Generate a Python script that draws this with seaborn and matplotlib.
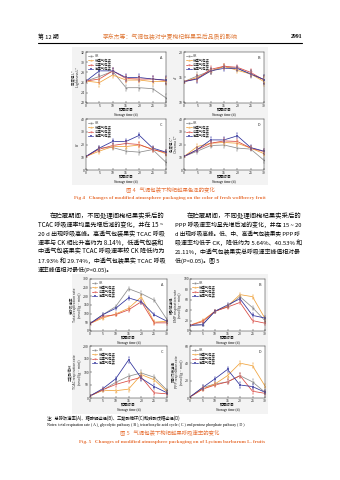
import numpy as np
import pandas as pd
import matplotlib
matplotlib.use("Agg")
import matplotlib.pyplot as plt
import seaborn as sns

# ---------------- data ----------------
days = [0, 5, 10, 15, 20, 25, 30]
groups = ["CK", "低透气包装", "中透气包装", "高透气包装"]

# Fig 4 (color)
f4a_ck = [26.3, 27.2, 28.2, 25.0, 25.0, 24.8, 23.0]
f4a_low = [26.3, 26.0, 27.5, 26.5, 26.5, 26.2, 26.2]
f4a_mid = [26.3, 26.7, 28.3, 26.8, 26.7, 26.7, 26.4]
f4a_high = [26.3, 28.3, 28.3, 27.0, 27.0, 26.7, 26.5]
f4a_err = [0.2, 0.8, 0.6, 0.6, 0.6, 0.6, 0.7]

f4b_ck = [14.2, 15.3, 16.3, 17.1, 16.8, 15.6, 14.6]
f4b_low = [14.2, 15.0, 16.2, 17.2, 16.4, 15.7, 14.2]
f4b_mid = [14.2, 14.8, 16.6, 17.2, 17.0, 16.0, 14.5]
f4b_high = [14.2, 14.7, 16.3, 16.8, 16.8, 15.7, 14.6]
f4b_err = [0.2, 0.7, 0.6, 0.5, 0.5, 0.7, 0.8]

f4c_ck = [10.6, 17.2, 17.6, 14.8, 14.0, 16.0, 6.0]
f4c_low = [10.6, 14.8, 18.4, 18.4, 19.6, 16.4, 12.8]
f4c_mid = [10.6, 16.4, 19.2, 20.8, 20.0, 16.0, 13.6]
f4c_high = [10.6, 17.2, 22.4, 22.4, 27.2, 17.2, 14.0]
f4c_err = [0.5, 2.0, 2.0, 2.0, 2.0, 1.8, 2.0]

f4d_ck = [10.6, 14.8, 19.2, 19.6, 17.2, 16.4, 7.6]
f4d_low = [10.6, 18.4, 21.0, 21.6, 21.0, 17.2, 12.8]
f4d_mid = [10.6, 16.0, 21.0, 22.8, 22.4, 17.2, 14.4]
f4d_high = [10.6, 16.0, 23.6, 23.6, 26.8, 17.6, 14.8]
f4d_err = [0.5, 2.0, 2.0, 2.0, 2.0, 1.8, 2.0]

# Fig 5 (respiration)
f5a_ck = [43, 94, 141, 244, 216, 178, 66]
f5a_low = [43, 75, 98, 131, 197, 51, 56]
f5a_mid = [43, 84, 94, 122, 169, 47, 47]
f5a_high = [43, 94, 131, 191, 169, 94, 56]
f5a_err = [5, 10, 10, 12, 12, 10, 10]

f5b_ck = [11, 12, 38, 47, 66, 45, 20]
f5b_low = [11, 20, 38, 48, 70, 66, 24]
f5b_mid = [11, 18, 38, 46, 55, 20, 15]
f5b_high = [11, 12, 38, 50, 62, 30, 25]
f5b_err = [1.5, 3, 3, 3, 4, 4, 3]

f5c_ck = [8, 30, 60, 84, 96, 80, 30]
f5c_low = [8, 30, 28, 34, 90, 70, 24]
f5c_mid = [8, 32, 52, 66, 80, 20, 16]
f5c_high = [8, 36, 74, 146, 76, 44, 20]
f5c_err = [2, 6, 8, 10, 10, 8, 6]

f5d_ck = [1.2, 12.0, 16.2, 18.6, 25.8, 18.6, 6.6]
f5d_low = [1.2, 10.2, 16.2, 25.8, 40.2, 37.2, 13.8]
f5d_mid = [1.2, 10.2, 15.0, 18.6, 25.8, 7.8, 5.4]
f5d_high = [1.2, 12.0, 22.2, 33.0, 15.0, 13.2, 6.6]
f5d_err = [0.5, 2.5, 2.5, 3, 3, 3, 2.5]

# ---------------- styling ----------------
W, H = 340, 480
sns.set_theme(style="ticks")
plt.rcParams["font.family"] = ["Noto Sans CJK SC", "DejaVu Sans"]
plt.rcParams["axes.unicode_minus"] = False

palette = {"CK": "#8c8c8c", "低透气包装": "#f0a23a",
           "中透气包装": "#d9473f", "高透气包装": "#2c2f9a"}
markers = {"CK": "o", "低透气包装": "^", "中透气包装": "v", "高透气包装": "s"}

fig = plt.figure(figsize=(W / 100, H / 100), dpi=100)
fig.patch.set_facecolor("white")
renderer = fig.canvas.get_renderer()

SERIF = ["Liberation Serif", "DejaVu Serif"]
CJK = ["Noto Sans CJK SC", "DejaVu Sans"]


def px(x, y):
    return x / W, 1 - y / H


def add_ax(x0, y0, x1, y1):
    return fig.add_axes([x0 / W, 1 - y1 / H, (x1 - x0) / W, (y1 - y0) / H])


def txt(x, y, s, size, color="black", ha="left", family=CJK, weight="normal"):
    fx, fy = px(x, y)
    return fig.text(fx, fy, s, fontsize=size, color=color, ha=ha, va="center",
                    family=family, fontweight=weight)


def fit_line(x, y, s, size, width):
    t = txt(x, y, s, size)
    w = t.get_window_extent(renderer).width
    if w > 0:
        t.set_fontsize(size * width / w)
    return t


def bg(x0, y0, x1, y1, color="#f3f3f3"):
    r = plt.Rectangle((x0 / W, 1 - y1 / H), (x1 - x0) / W, (y1 - y0) / H,
                      transform=fig.transFigure, facecolor=color,
                      edgecolor="none", zorder=-10)
    fig.patches.append(r)


def panel(box, series, err, ylim, yticks, ylabel, letter):
    ax = add_ax(*box)
    ax.set_facecolor("white")
    rows = []
    for g, vals in zip(groups, series):
        for d, v in zip(days, vals):
            rows.append({"day": d, "value": v, "group": g})
    df = pd.DataFrame(rows)
    sns.lineplot(data=df, x="day", y="value", hue="group", style="group",
                 palette=palette, markers=markers, dashes=False,
                 markersize=1.6, linewidth=0.55, ax=ax, legend=True,
                 markeredgewidth=0.2)
    for g, vals in zip(groups, series):
        ax.errorbar(days, vals, yerr=err, fmt="none", ecolor=palette[g],
                    elinewidth=0.3, capsize=0.6, capthick=0.3)
    ax.set_xlim(0, 30)
    ax.set_xticks(days)
    ax.set_ylim(*ylim)
    ax.set_yticks(yticks)
    ax.tick_params(direction="in", length=1.2, width=0.3, labelsize=2.5,
                   pad=0.8, top=False, right=False)
    for s in ax.spines.values():
        s.set_linewidth(0.35)
        s.set_visible(True)
    ax.set_xlabel("")
    ax.set_ylabel(ylabel, fontsize=2.5, labelpad=1, linespacing=1.1)
    ax.legend(loc="upper left", fontsize=2.4, frameon=False,
              handlelength=1.6, borderaxespad=0.25, labelspacing=0.12,
              handletextpad=0.4)
    ax.text(0.95, 0.93, letter, transform=ax.transAxes, fontsize=2.8,
            ha="right", va="top")
    x0, y0, x1, y1 = box
    cx = (x0 + x1) / 2
    txt(cx, y1 + 7.0, "贮藏时间", 2.6, ha="center")
    txt(cx, y1 + 12.0, "Storage time (d)", 2.6, ha="center", family=SERIF)
    return ax


# ---------------- header ----------------
txt(38, 37, "第 12 期", 4.2, family=CJK)
txt(170, 37, "李东杰等：气调包装对宁夏枸杞鲜果采后品质的影响", 4.2,
    color="#e07a3a", ha="center")
txt(302, 37, "2991", 4.2, ha="right", family=SERIF, weight="bold")
fig.add_artist(plt.Line2D([38 / W, 302 / W], [1 - 43 / H, 1 - 43 / H],
                          transform=fig.transFigure, color="black", lw=0.8))

# ---------------- Fig 4 ----------------
bg(72, 47, 268, 185)
panel((86, 52, 166, 103), [f4a_ck, f4a_low, f4a_mid, f4a_high], f4a_err,
      (22, 32), [22, 24, 26, 28, 30, 32], "亮度值 L*\nLightness L*", "A")
panel((184, 52, 264, 103), [f4b_ck, f4b_low, f4b_mid, f4b_high], f4b_err,
      (10, 20), [10, 15, 20], "a*", "B")
panel((86, 119, 166, 170), [f4c_ck, f4c_low, f4c_mid, f4c_high], f4c_err,
      (0, 40), [0, 10, 20, 30, 40], "b*", "C")
panel((184, 119, 264, 170), [f4d_ck, f4d_low, f4d_mid, f4d_high], f4d_err,
      (0, 40), [0, 10, 20, 30, 40], "色度值 C*\nChroma C*", "D")

txt(170, 189, "图 4   气调包装下枸杞鲜果色泽的变化", 3.9, color="#e8743b",
    ha="center")
txt(170, 198, "Fig 4   Changes of modified atmosphere packaging on the color of fresh wolfberry fruit",
    3.7, color="#e8743b", ha="center", family=SERIF, weight="bold")

# ---------------- body text ----------------
left_lines = [
    "在贮藏期间，不同处理间枸杞果实采后的",
    "TCAC 呼吸速率均呈先增后减的变化，并在 15 ~",
    "20 d 出现呼吸高峰。高透气包装果实 TCAC 呼吸",
    "速率与 CK 相比升高约为 8.14%，低透气包装和",
    "中透气包装果实 TCAC 呼吸速率较 CK 降低约为",
    "17.93% 和 29.74%，中透气包装果实 TCAC 呼吸",
    "速率峰值相对最低(P<0.05)。",
]
right_lines = [
    "在贮藏期间，不同处理间枸杞果实采后的",
    "PPP 呼吸速率均呈先增后减的变化，并在 15 ~ 20",
    "d 出现呼吸高峰。低、中、高透气包装果实 PPP 呼",
    "吸速率均低于 CK，降低约为 5.64%、40.53% 和",
    "21.11%，中透气包装果实总呼吸速率峰值相对最",
    "低(P<0.05)。图 5",
]
BODY = 4.2
for col_x, col_w, lines in ((38, 127, left_lines), (175, 127, right_lines)):
    for i, s in enumerate(lines):
        y = 216 + i * 8.9
        if i == 0:
            fit_line(col_x + 12, y, s, BODY, col_w - 12)
        elif i == len(lines) - 1:
            txt(col_x, y, s, BODY)
        else:
            fit_line(col_x, y, s, BODY, col_w)

# ---------------- Fig 5 ----------------
bg(72, 274, 268, 414)
unit = "(nmol/(g·min))"
panel((90, 279, 167, 331), [f5a_ck, f5a_low, f5a_mid, f5a_high], f5a_err,
      (0, 300), [0, 50, 100, 150, 200, 250, 300],
      "总呼吸速率\nTotal respiration rate\n" + unit, "A")
panel((190, 279, 265, 331), [f5b_ck, f5b_low, f5b_mid, f5b_high], f5b_err,
      (0, 100), [0, 20, 40, 60, 80, 100],
      "糖酵解途径\nEMP respiration rate\n" + unit, "B")
panel((90, 346, 167, 398), [f5c_ck, f5c_low, f5c_mid, f5c_high], f5c_err,
      (0, 200), [0, 50, 100, 150, 200],
      "三羧酸循环\nTCAC respiration rate\n" + unit, "C")
panel((190, 346, 265, 398), [f5d_ck, f5d_low, f5d_mid, f5d_high], f5d_err,
      (0, 60), [0, 20, 40, 60],
      "磷酸戊糖途径\nPPP respiration rate\n" + unit, "D")

txt(47, 418, "注：总呼吸速率(A)、糖酵解途径(B)、三羧酸循环(C)和磷酸戊糖途径(D)", 3.1)
txt(47, 425, "Notes: total respiration rate ( A ), glycolytic pathway ( B ), tricarboxylic acid cycle ( C ) and pentose phosphate pathway ( D )",
    2.9, family=SERIF)
txt(170, 432, "图 5   气调包装下枸杞鲜果呼吸速率的变化", 3.9, color="#e8743b",
    ha="center")
txt(172, 442, "Fig. 5   Changes of modified atmosphere packaging on of Lycium barbarum L. fruits",
    3.7, color="#e8743b", ha="center", family=SERIF, weight="bold")

fig.savefig("out.png", dpi=100, facecolor="white")
